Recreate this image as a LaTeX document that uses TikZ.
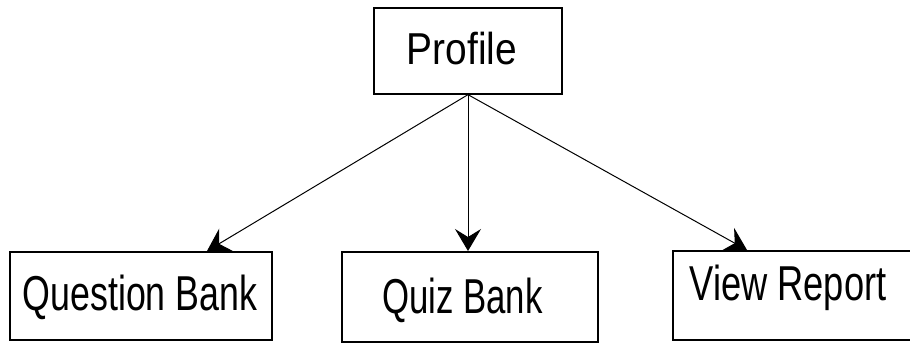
\documentclass[tikz,border=0pt]{standalone}
\usepackage{fontspec}
\usepackage{graphicx}
\setmainfont{Liberation Sans}
\usetikzlibrary{arrows.meta}

\tikzset{
  box/.style={draw=black, line width=1.3pt, rectangle, inner sep=0pt},
  lbl/.style={inner sep=0pt, anchor=base, font=\fontsize{49}{49}\selectfont},
  link/.style={draw=black, line width=1pt,
    -{Stealth[length=22pt,width=26pt,inset=8pt]}},
}

\begin{document}
\begin{tikzpicture}[x=1pt,y=-1pt]
  \useasboundingbox (0,0) rectangle (910,345);

  % boxes
  \node[box, minimum width=188pt, minimum height=86pt] (profile) at (468,51) {};
  \node[box, minimum width=262pt, minimum height=88pt] (qbank) at (141,296) {};
  \node[box, minimum width=256pt, minimum height=90pt] (quiz) at (470,297) {};
  \node[box, minimum width=262pt, minimum height=89pt] (report) at (804,295.5) {};

  % captions
  \node[lbl, font=\fontsize{44.7}{44.7}\selectfont] (profilet) at (462,65) {\scalebox{0.87}[1]{Profile}};
  \node[lbl] (qbankt) at (140,310) {\scalebox{0.73}[1]{Question Bank}};
  \node[lbl] (quizt) at (462.5,313) {\scalebox{0.71}[1]{Quiz Bank}};
  \node[lbl] (reportt) at (788,300) {\scalebox{0.74}[1]{View Report}};

  % arrow targets on the top edges
  \coordinate (qbtip) at (207,251);
  \coordinate (quiztip) at (468,251);
  \coordinate (reporttip) at (747,250);

  % connectors
  \draw[link] (profile.south) -- (qbtip);
  \draw[link] (profile.south) -- (quiztip);
  \draw[link] (profile.south) -- (reporttip);
\end{tikzpicture}
\end{document}
